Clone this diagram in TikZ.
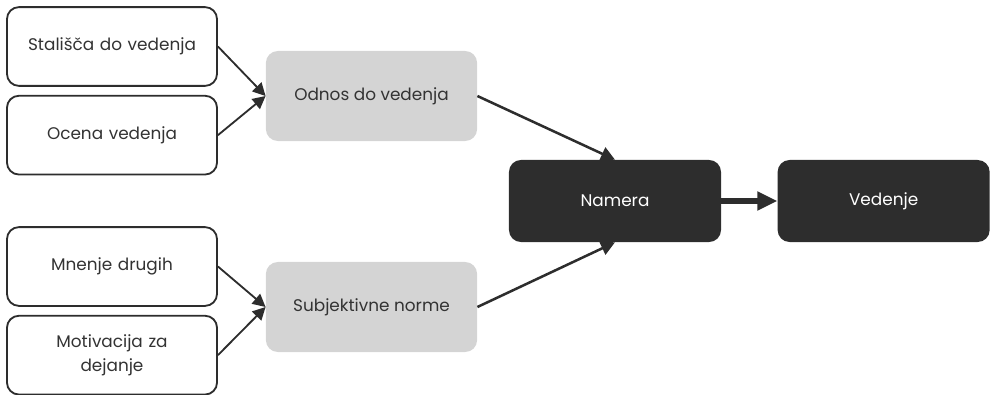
\documentclass[tikz,border=0pt]{standalone}
\usepackage{fontspec}
\setmainfont{Poppins}
\usetikzlibrary{positioning,arrows.meta}
\definecolor{boxdark}{HTML}{2D2D2D}
\definecolor{boxgray}{HTML}{D4D4D4}
\definecolor{textdark}{HTML}{333333}

\begin{document}
\begin{tikzpicture}[x=0.025cm, y=-0.025cm,
whitenode/.style={rectangle, rounded corners=0.3cm, draw=boxdark, line width=1.3pt, fill=white, minimum width=5.25cm, minimum height=1.97cm, text width=4.6cm, align=center, text=textdark, font=\fontsize{12}{17.5}\selectfont},
graynode/.style={rectangle, rounded corners=0.3cm, fill=boxgray, minimum width=5.28cm, minimum height=2.25cm, align=center, text=textdark, font=\fontsize{12}{17.5}\selectfont},
darknode/.style={rectangle, rounded corners=0.3cm, fill=boxdark, minimum width=5.3cm, minimum height=2.05cm, align=center, text=white, font=\fontsize{12}{17.5}\selectfont},
thinarrow/.style={-{Triangle[length=0.32cm, width=0.32cm]}, line width=1.3pt, draw=boxdark},
midarrow/.style={-{Triangle[length=0.35cm, width=0.35cm]}, line width=1.8pt, draw=boxdark},
thickarrow/.style={-{Triangle[length=0.5cm, width=0.45cm]}, line width=4pt, draw=boxdark},
]
\useasboundingbox (0,0) rectangle (990,394);

%Nodes
\node[whitenode]        (s1)       at (112,46.5) {Stališča do vedenja};
\node[whitenode]        (s2)       [below=0.2cm of s1] {Ocena vedenja};
\node[graynode]         (odnos)    at (371.5,96) {Odnos do vedenja};

\node[whitenode]        (m1)       at (112,266.5) {Mnenje drugih};
\node[whitenode]        (m2)       [below=0.2cm of m1] {Motivacija za\\dejanje};
\node[graynode]         (norme)    at (371.5,307) {Subjektivne norme};

\node[darknode]         (namera)   at (615,201) {Namera};
\node[darknode]         (vedenje)  [right=1.4cm of namera] {Vedenje};

%Lines
\draw[thinarrow] (s1.east) -- (odnos.west);
\draw[thinarrow] (s2.east) -- (odnos.west);
\draw[thinarrow] (m1.east) -- (norme.west);
\draw[thinarrow] (m2.east) -- (norme.west);

\draw[midarrow] (odnos.east) -- (namera.north);
\draw[midarrow] (norme.east) -- (namera.south);
\draw[thickarrow] (namera.east) -- (vedenje.west);

\end{tikzpicture}
\end{document}
